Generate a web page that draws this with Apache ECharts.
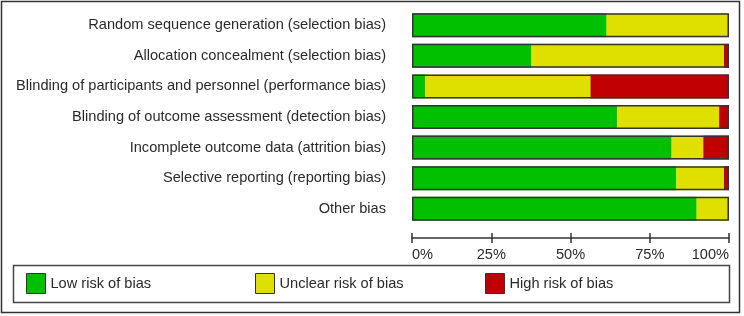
<!DOCTYPE html>
<html>
<head>
<meta charset="utf-8">
<script src="https://cdn.jsdelivr.net/npm/echarts@6/dist/echarts.min.js"></script>
<style>
  html, body { margin: 0; padding: 0; background: #fff; }
  #chart { width: 744px; height: 316px; }
</style>
</head>
<body>
<div id="chart"></div>
<script>
// risk of bias domains, top to bottom
var domains = [
  'Random sequence generation (selection bias)',
  'Allocation concealment (selection bias)',
  'Blinding of participants and personnel (performance bias)',
  'Blinding of outcome assessment (detection bias)',
  'Incomplete outcome data (attrition bias)',
  'Selective reporting (reporting bias)',
  'Other bias'
];
// percentages
var lowRisk = [61.4, 37.7, 4.1, 64.7, 81.9, 83.4, 89.8];
var unclearRisk = [38.6, 60.7, 52.2, 32.2, 10.0, 15.0, 10.2];
var highRisk = [0, 1.6, 43.7, 3.1, 8.1, 1.6, 0];
var outline = [100, 100, 100, 100, 100, 100, 100];
var tickLabels = ['0%', '25%', '50%', '75%', '100%'];

var font = '"Liberation Sans", Arial, sans-serif';
var textColor = '#2a2a2a';
var myChart = echarts.init(document.getElementById('chart'));

function part(name, data, color) {
  return {
    name: name,
    type: 'bar',
    stack: 'rob',
    barWidth: 24,
    data: data,
    itemStyle: { color: color },
    silent: true
  };
}

var option = {
  animation: false,
  textStyle: { fontFamily: font },
  grid: { left: 412, right: 15, top: 10, height: 214 },
  xAxis: [
    {
      type: 'value', min: 0, max: 100, interval: 25,
      position: 'bottom', offset: 14,
      splitLine: { show: false },
      axisLine: { show: true, lineStyle: { color: '#333', width: 1.5 } },
      axisTick: { show: true, length: 5, lineStyle: { color: '#333', width: 1.5 } },
      axisLabel: {
        color: textColor, fontSize: 14.6, margin: 9,
        alignMinLabel: 'left', alignMaxLabel: 'right',
        formatter: function (v) { return tickLabels[v / 25]; }
      }
    },
    {
      type: 'value', min: 0, max: 100, interval: 25,
      position: 'bottom', offset: 14,
      splitLine: { show: false },
      axisLine: { show: false },
      axisTick: { show: true, inside: true, length: 5, lineStyle: { color: '#333', width: 1.5 } },
      axisLabel: { show: false }
    }
  ],
  yAxis: {
    type: 'category',
    inverse: true,
    data: domains,
    axisLine: { show: false },
    axisTick: { show: false },
    axisLabel: { color: textColor, fontSize: 14.6, margin: 26 }
  },
  legend: [
    { data: ['Low risk of bias'], left: 21, top: 268 },
    { data: ['Unclear risk of bias'], left: 250, top: 268 },
    { data: ['High risk of bias'], left: 480, top: 268 }
  ].map(function (l) {
    return Object.assign(l, {
      icon: 'rect', itemWidth: 19, itemHeight: 20,
      itemStyle: { borderColor: '#333', borderWidth: 1 },
      textStyle: { color: textColor, fontSize: 14.6, fontFamily: font },
      selectedMode: false
    });
  }),
  graphic: [
    { type: 'rect', shape: { x: 1.5, y: 1.5, width: 738, height: 311 },
      style: { fill: 'none', stroke: '#333', lineWidth: 1.5 }, silent: true },
    { type: 'rect', shape: { x: 13.5, y: 265.5, width: 716, height: 37 },
      style: { fill: 'none', stroke: '#444', lineWidth: 1.5 }, silent: true }
  ],
  series: [
    part('Low risk of bias', lowRisk, '#00c000'),
    part('Unclear risk of bias', unclearRisk, '#e0e000'),
    part('High risk of bias', highRisk, '#c00000'),
    {
      name: 'outline',
      type: 'bar',
      barWidth: 24,
      barGap: '-100%',
      data: outline,
      itemStyle: { color: 'rgba(0,0,0,0)', borderColor: '#333', borderWidth: 1.5 },
      silent: true,
      z: 3
    }
  ]
};

myChart.setOption(option);
</script>
</body>
</html>
